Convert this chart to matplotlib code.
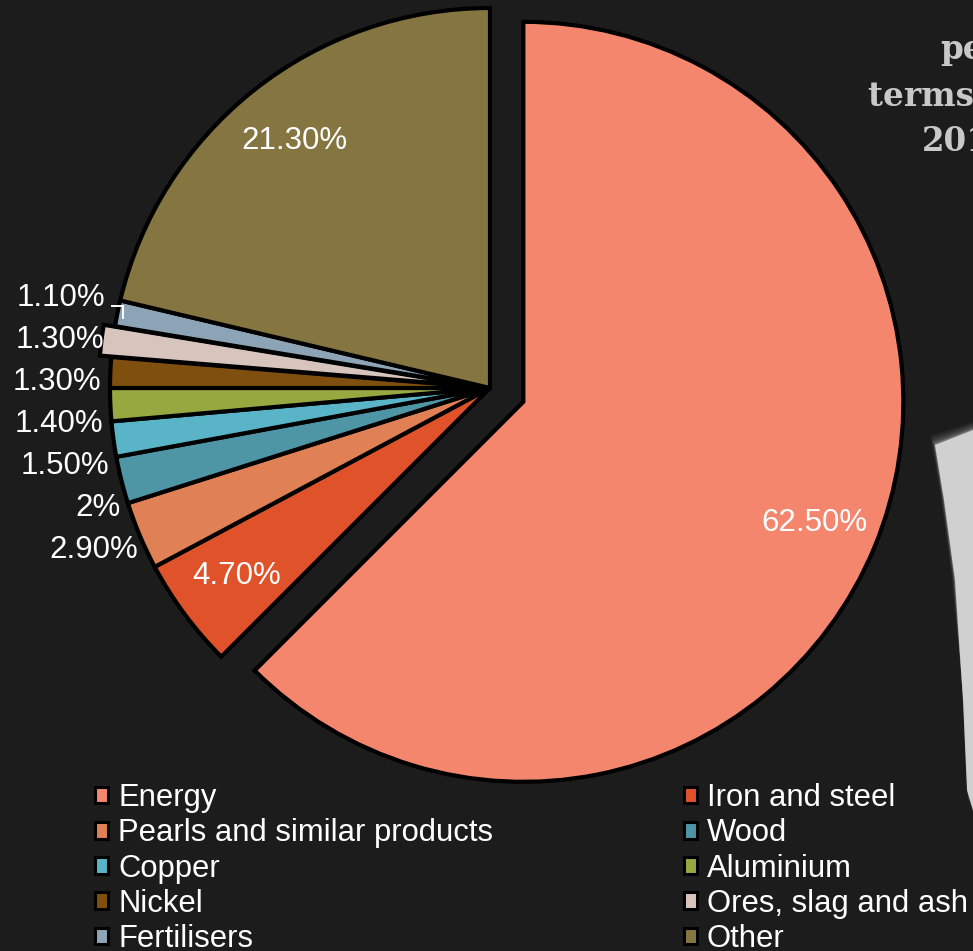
import numpy as np
import matplotlib
matplotlib.use("Agg")
import matplotlib.pyplot as plt
from matplotlib.patches import Patch, Polygon

# ---------------- data ----------------
categories = ["Energy", "Iron and steel", "Pearls and similar products", "Wood",
              "Copper", "Aluminium", "Nickel", "Ores, slag and ash",
              "Fertilisers", "Other"]
shares = [62.5, 4.7, 2.9, 2.0, 1.5, 1.4, 1.3, 1.3, 1.1, 21.3]
colors = ["#F4866E", "#E0532A", "#E08055", "#4E95A6", "#5AB4C8",
          "#97A840", "#7E4F0E", "#D6C4BD", "#8CA4B6", "#857641"]
explode = [0.095, 0, 0, 0, 0, 0, 0, 0.03, 0, 0]
title_lines = ["percentage", "terms of value,", "2013"]

# ---------------- layout helpers ----------------
W, H = 973, 951
CX, CY, R = 490, 388, 380          # pie centre / radius in pixels
BG = "#1c1c1c"


def px(x, y):
    """pixel -> data units (radius = 1)"""
    return (x - CX) / R, (CY - y) / R


fig = plt.figure(figsize=(W / 100, H / 100), dpi=100)
fig.patch.set_facecolor(BG)
ax = fig.add_axes([0, 0, 1, 1])
ax.set_facecolor(BG)

wedges, _ = ax.pie(shares, colors=colors, explode=explode, startangle=90,
                   counterclock=False, radius=1.0,
                   wedgeprops=dict(edgecolor="black", linewidth=3.0,
                                   joinstyle="miter"))
ax.set_xlim(-CX / R, (W - CX) / R)
ax.set_ylim((CY - H) / R, CY / R)
ax.set_aspect("auto")
ax.axis("off")


def fmt(v):
    return f"{v:g}%" if float(v).is_integer() else f"{v:.2f}%"


label_font = dict(family=["Liberation Sans", "DejaVu Sans"], size=22.5,
                  color="white")

# inside labels for the big slices
small = []
for i, (w, v) in enumerate(zip(wedges, shares)):
    th = np.deg2rad((w.theta1 + w.theta2) / 2)
    cx, cy = w.center
    if v > 4:
        ax.text(cx + 0.83 * np.cos(th), cy + 0.83 * np.sin(th), fmt(v),
                ha="center", va="center", **label_font)
    else:
        small.append((i, np.sin(th)))

# outside labels: spread vertically with an equal gap, right aligned
gap = 42 / R
ys_nat = np.array([s[1] for s in small])
order = np.argsort(ys_nat)
n = len(small)
mean = ys_nat.mean()
placed = {}
for k, idx in enumerate(order):
    placed[idx] = mean + (k - (n - 1) / 2) * gap - 0.03
for j, (i, _) in enumerate(small):
    y = placed[j]
    pad = 0.04 if categories[i] == "Fertilisers" else 0.022
    x = -np.sqrt(max(1 - y ** 2, 0)) - pad
    ax.text(x, y, fmt(shares[i]), ha="right", va="center", **label_font)
    if categories[i] == "Fertilisers":
        x0, y0 = x + 0.018, y - 0.022
        ax.plot([x0, x0 + 0.027, x0 + 0.027], [y0, y0, y0 - 0.03],
                color="white", lw=1.4, solid_joinstyle="miter")

# decorative soft light shape on the right edge (part of the background photo)
blob = [(935, 445), (973, 430), (973, 810), (967, 790), (963, 700),
        (955, 580), (944, 500)]
cxb = np.mean([p[0] for p in blob])
cyb = np.mean([p[1] for p in blob])
for grow, a in [(16, 0.04), (13, 0.06), (10, 0.08), (7, 0.11), (4, 0.16),
                (2, 0.22)]:
    pts = []
    for x, y in blob:
        dx, dy = x - cxb, y - cyb
        d = np.hypot(dx, dy)
        pts.append(px(x + grow * dx / d * 2.0, y + grow * dy / d * 0.6))
    ax.add_patch(Polygon(pts, closed=True, facecolor="#d0d0d0",
                         edgecolor="none", alpha=a))
ax.add_patch(Polygon([px(x, y) for x, y in blob], closed=True,
                     facecolor="#e0e0e0", edgecolor="none", alpha=0.85))

# partially visible title in the upper right
for (tx, ty), line in zip([(940, 50), (868, 96), (922, 142)], title_lines):
    x, y = px(tx, ty)
    ax.text(x, y, line, ha="left", va="center", family="DejaVu Serif",
            fontweight="bold", fontsize=23.5, color="#c8c8c8")

# legend, filled row by row
handles = [Patch(facecolor=c, edgecolor="black", linewidth=2.2) for c in colors]
order_leg = list(range(0, 10, 2)) + list(range(1, 10, 2))
leg = fig.legend([handles[i] for i in order_leg],
                 [categories[i] for i in order_leg],
                 ncol=2, loc="upper left",
                 bbox_to_anchor=(95 / W, 1 - 783 / H),
                 frameon=False, borderpad=0, borderaxespad=0,
                 handlelength=0.42, handleheight=0.45, handletextpad=0.33,
                 columnspacing=6.15, labelspacing=0.17,
                 prop=dict(family=["Liberation Sans", "DejaVu Sans"], size=22.3))
for t in leg.get_texts():
    t.set_color("white")

fig.savefig("out.png", dpi=100, facecolor=fig.get_facecolor())
